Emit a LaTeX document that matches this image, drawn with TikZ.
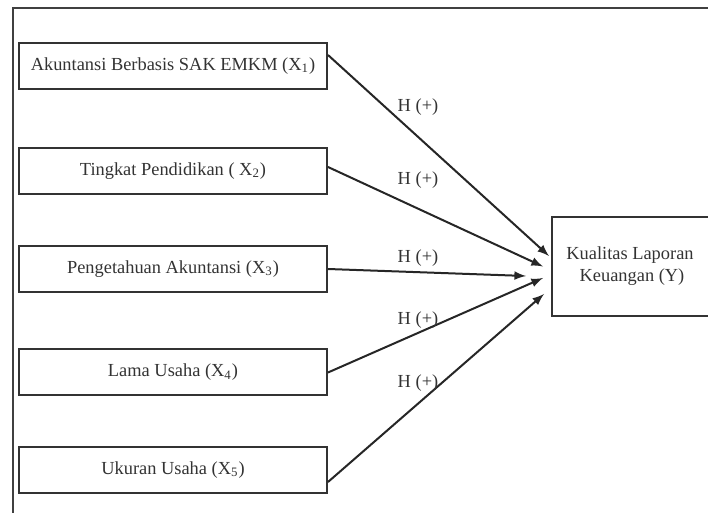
\documentclass[tikz,border=0pt]{standalone}
\usepackage{fontspec}
\setmainfont{Liberation Serif}
\usetikzlibrary{arrows,calc}

\begin{document}
\begin{tikzpicture}[x=0.5pt,y=-0.5pt]
\clip (0,0) rectangle (708,513);
\tikzstyle{varbox} = [draw=black!80, line width=1pt, text=black!80, minimum width=154pt, minimum height=23pt, inner sep=0pt, font=\fontsize{9.2}{11}\selectfont]
\tikzstyle{hyp} = [text=black!80, inner sep=0pt, font=\fontsize{9.2}{11}\selectfont]
\tikzstyle{link} = [->, >=latex, line width=1pt, black!85]
% frame
\draw[line width=1.4pt, black!75] (13,530) -- (13,8) -- (730,8);
\node[varbox] (x1) at (173,66) {Akuntansi Berbasis SAK EMKM (X\textsubscript{1})};
\node[varbox] (x2) at (173,171) {Tingkat Pendidikan ( X\textsubscript{2})};
\node[varbox] (x3) at (173,269) {Pengetahuan Akuntansi (X\textsubscript{3})};
\node[varbox] (x4) at (173,372.5) {Lama Usaha (X\textsubscript{4})};
\node[varbox] (x5) at (173,470) {Ukuran Usaha (X\textsubscript{5})};
\node[varbox, minimum width=80pt, minimum height=49.5pt, align=center] (y) at (632,266.5) {\hspace*{-2pt}Kualitas Laporan\\Keuangan (Y)};
% paths
\draw[link] ([yshift=5.5pt]x1.east) -- ([xshift=-1pt,yshift=5.25pt]y.west);
\draw[link] ([yshift=2pt]x2.east) -- ([xshift=-4pt]y.west);
\draw[link] (x3.east) -- ([xshift=-12.5pt,yshift=-4.75pt]y.west);
\draw[link] (x4.east) -- ([xshift=-4pt,yshift=-5.75pt]y.west);
\draw[link] ([yshift=-6pt]x5.east) -- ([xshift=-3.5pt,yshift=-13.75pt]y.west);
\node[hyp] (h1) at (418,107) {H (+)};
\node[hyp] (h2) at (418,180) {H (+)};
\node[hyp] (h3) at (418,258) {H (+)};
\node[hyp] (h4) at (418,320) {H (+)};
\node[hyp] (h5) at (418,383) {H (+)};
\end{tikzpicture}
\end{document}
